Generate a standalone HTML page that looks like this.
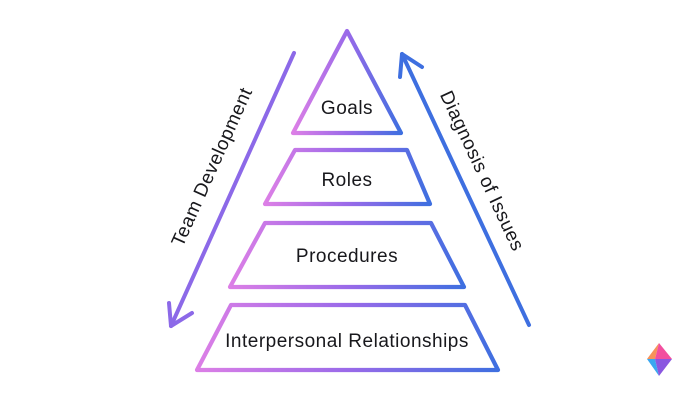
<!DOCTYPE html>
<html>
<head>
<meta charset="utf-8">
<style>
  html,body{margin:0;padding:0;background:#fff;}
  svg{display:block;}
  text{font-family:"Liberation Sans",Arial,sans-serif;font-size:19px;fill:#18181c;letter-spacing:0.5px;}
</style>
</head>
<body>
<svg width="700" height="400" viewBox="0 0 700 400" xmlns="http://www.w3.org/2000/svg">
  <defs>
    <linearGradient id="g" x1="0" y1="0" x2="1" y2="0">
      <stop offset="0" stop-color="#dc7fe6"/>
      <stop offset="0.5" stop-color="#9a6ae9"/>
      <stop offset="1" stop-color="#3e6fe0"/>
    </linearGradient>
  </defs>
  <rect width="700" height="400" fill="#fff"/>

  <g fill="none" stroke="url(#g)" stroke-width="4.2" stroke-linejoin="round">
    <polygon points="347,31 293,133 401,133"/>
    <polygon points="295,150 407,150 430,204 265,204"/>
    <polygon points="265,223 431,223 464,287 230,287"/>
    <polygon points="231,305 465,305 498,370 197,370"/>
  </g>

  <!-- left arrow -->
  <g fill="none" stroke="#8c69e8" stroke-width="4" stroke-linecap="round" stroke-linejoin="round">
    <line x1="294" y1="53" x2="171" y2="326"/>
    <polyline points="169,303 171,326 192,313"/>
  </g>
  <!-- right arrow -->
  <g fill="none" stroke="#3e6fe0" stroke-width="4" stroke-linecap="round" stroke-linejoin="round">
    <line x1="529" y1="325" x2="402" y2="54"/>
    <polyline points="400,77 402,54 422,67"/>
  </g>

  <text x="347" y="114" text-anchor="middle">Goals</text>
  <text x="347" y="186" text-anchor="middle">Roles</text>
  <text x="347" y="262" text-anchor="middle">Procedures</text>
  <text x="347" y="347" text-anchor="middle">Interpersonal Relationships</text>

  <text text-anchor="middle" transform="translate(217.5,169.5) rotate(-65.9)">Team Development</text>
  <text text-anchor="middle" transform="translate(476.5,173.5) rotate(65)">Diagnosis of Issues</text>

  <!-- logo -->
  <g>
    <polygon points="659,343 647,359 655,359" fill="#f7935a"/>
    <polygon points="659,343 655,359 672,359" fill="#f24f9f"/>
    <polygon points="647,359 655,359 659,376" fill="#3aa7f0"/>
    <polygon points="655,359 672,359 659,376" fill="#8a57e0"/>
  </g>
</svg>
</body>
</html>
